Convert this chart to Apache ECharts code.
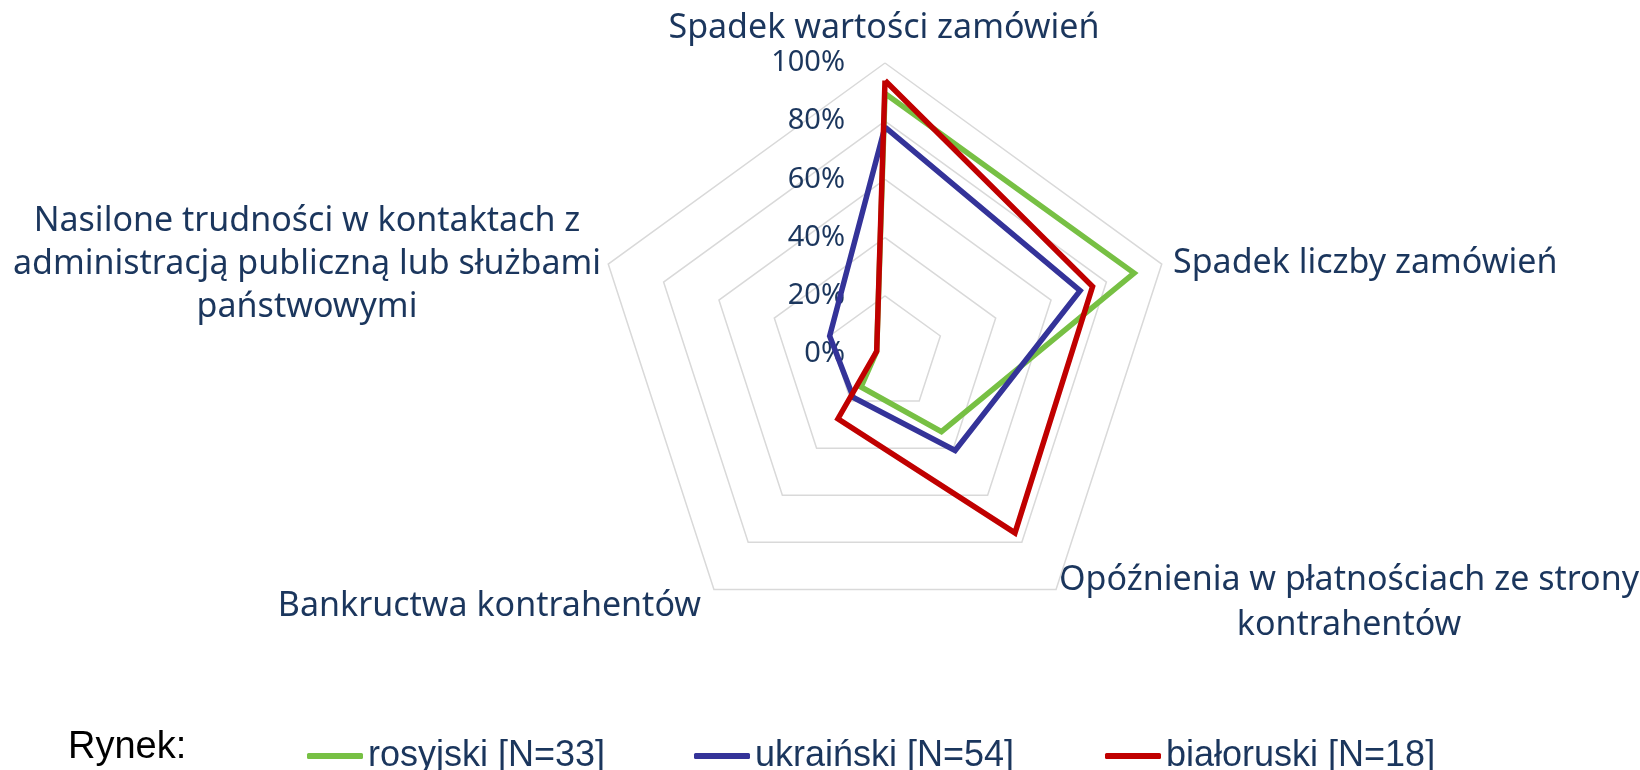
<!DOCTYPE html>
<html>
<head>
<meta charset="utf-8">
<title>Rynek - radar</title>
<script src="https://cdn.jsdelivr.net/npm/echarts@6.0.0/dist/echarts.min.js"></script>
<style>
    html, body {margin: 0; padding: 0; background: #fff;}
    #chart {width: 1640px; height: 770px;}
</style>
</head>
<body>
<div id="chart"></div>
<script>
// kategorie w kolejnosci echarts (od gory, przeciwnie do wskazowek zegara)
var categories = [
    'Spadek wartości zamówień',
    'Nasilone trudności w kontaktach z\nadministracją publiczną lub służbami\npaństwowymi',
    'Bankructwa kontrahentów',
    'Opóźnienia w płatnościach ze strony\nkontrahentów',
    'Spadek liczby zamówień'
];

var seriesNames = ['rosyjski [N=33]', 'ukraiński [N=54]', 'białoruski [N=18]'];

var rosyjski = [0.895, 0.03, 0.14, 0.33, 0.90];
var ukrainski = [0.78, 0.20, 0.185, 0.41, 0.705];
var bialoruski = [0.94, 0.03, 0.275, 0.76, 0.75];

var tickLabels = ['0%', '20%', '40%', '60%', '80%', '100%'];

var colors = ['#77C044', '#343399', '#C00000'];
var navy = '#1B365D';
var labelFont = '"Noto Sans", sans-serif';

var myChart = echarts.init(document.getElementById('chart'));

var indicator = categories.map(function (name, i) {
    var item = {name: name, min: 0, max: 1};
    if (i > 0) {
        item.axisLabel = {show: false};  // opisy osi tylko na gornej osi
    }
    return item;
});

function nameText(text, x, y, align, lh) {
    return {
        type: 'text',
        x: x,
        y: y,
        style: {
            text: text,
            fill: navy,
            font: '34px ' + labelFont,
            lineHeight: lh || 44,
            textAlign: align,
            align: align,
            textVerticalAlign: 'middle',
            verticalAlign: 'middle'
        }
    };
}

function legendItem(name, left) {
    return {
        data: [name],
        left: left,
        top: 733,
        icon: 'roundRect',
        itemWidth: 56,
        itemHeight: 6,
        itemGap: 0,
        textStyle: {
            color: navy,
            fontSize: 36,
            fontFamily: '"Liberation Sans", Arial, sans-serif'
        }
    };
}

var option = {
    animation: false,
    color: colors,
    legend: [
        legendItem(seriesNames[0], 302),
        legendItem(seriesNames[1], 689),
        legendItem(seriesNames[2], 1100)
    ],
    radar: {
        center: [885, 354],
        radius: 291,
        startAngle: 90,
        splitNumber: 5,
        shape: 'polygon',
        axisName: {show: false},
        axisLine: {show: false},
        axisTick: {show: false},
        splitArea: {show: false},
        splitLine: {lineStyle: {color: '#D9D9D9', width: 1.5}},
        axisLabel: {
            show: true,
            margin: 40,
            color: navy,
            fontSize: 29,
            fontFamily: labelFont,
            formatter: function (v) {
                return tickLabels[Math.round(v * 5)];
            }
        },
        indicator: indicator
    },
    graphic: [
        nameText(categories[0], 884, 28, 'center'),
        nameText(categories[4], 1173, 263, 'left'),
        nameText(categories[3], 1349, 603, 'center', 45),
        nameText(categories[2], 701, 606, 'right'),
        nameText(categories[1], 307, 264, 'center', 43),
        {
            type: 'text',
            x: 68,
            y: 748,
            style: {
                text: 'Rynek:',
                fill: '#000',
                font: '38px "Liberation Sans", Arial, sans-serif',
                textAlign: 'left',
                align: 'left',
                textVerticalAlign: 'middle',
                verticalAlign: 'middle'
            }
        }
    ],
    series: [
        {
            type: 'radar',
            symbol: 'none',
            lineStyle: {width: 5.5, join: 'miter'},
            data: [
                {name: seriesNames[0], value: rosyjski},
                {name: seriesNames[1], value: ukrainski},
                {name: seriesNames[2], value: bialoruski}
            ]
        }
    ]
};

myChart.setOption(option);
</script>
</body>
</html>
